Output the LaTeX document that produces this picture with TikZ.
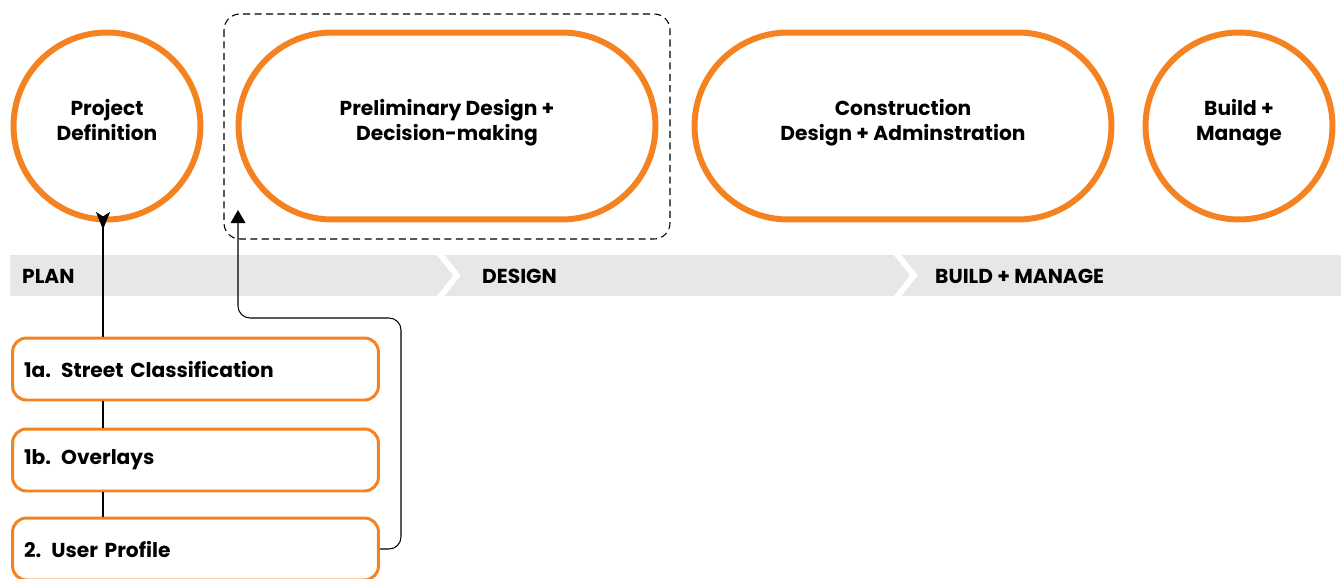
\documentclass[tikz,border=0pt]{standalone}
\usepackage{fontspec}
\setmainfont{Poppins}
\usetikzlibrary{arrows.meta}
\definecolor{stepor}{RGB}{245,130,32}
\definecolor{bandgr}{RGB}{230,231,232}

\begin{document}
\begin{tikzpicture}[x=0.02cm,y=-0.02cm,
    phase/.style={draw=stepor,line width=3.4pt,minimum height=3.74cm,align=center,text depth=7pt,font=\bfseries\fontsize{11.5}{14}\selectfont},
    task/.style={draw=stepor,line width=1.7pt,rounded corners=0.28cm,minimum width=7.32cm,minimum height=1.24cm,text width=6.86cm,align=left,inner xsep=0.23cm,font=\bfseries\fontsize{11.5}{14}\selectfont},
    bandlabel/.style={anchor=west,font=\bfseries\fontsize{11.5}{14}\selectfont}]
    \useasboundingbox (0,0) rectangle (1341,578);
    % phases
    \node [phase,circle,minimum size=3.74cm] (define) at (107,126) {Project\\Definition};
    \node [phase,rounded corners=1.87cm,minimum width=8.34cm] (prelim) at (447,126) {Preliminary Design +\\Decision-making};
    \node [phase,rounded corners=1.87cm,minimum width=8.34cm] (constr) at (903,126) {Construction\\Design + Adminstration};
    \node [phase,circle,minimum size=3.74cm] (manage) at (1239,126) {Build +\\Manage};
    \draw [dashed,dash pattern=on 4pt off 2.5pt,line width=0.6pt,rounded corners=0.32cm] (224,14) rectangle (670,239);
    % band
    \fill [bandgr] (10,255) rectangle (1341,296);
    \draw [white,line width=3.4pt] (439,253) -- (457,275.5) -- (439,298);
    \draw [white,line width=3.4pt] (896,253) -- (914,275.5) -- (896,298);
    \node [bandlabel] (plan) at (16,276) {PLAN};
    \node [bandlabel] (design) at (476,276) {DESIGN};
    \node [bandlabel] (build) at (929,276) {BUILD + MANAGE};
    % tasks
    \node [task] (street) at (195.5,369) {1a. Street Classification};
    \node [task] (overlay) at (195.5,460) {1b. Overlays};
    \node [task] (user) at (195.5,549) {2.\enspace User Profile};
    \coordinate (fork) at (103,212);
    \coordinate (ret) at (238,210);
    \draw [line width=0.7pt,{Stealth[reversed,length=10pt,width=8pt,inset=2.5pt]}-] (fork) -- (street.north -| fork);
    \draw [line width=0.6pt] (street.south -| fork) -- (overlay.north -| fork);
    \draw [line width=0.6pt] (overlay.south -| fork) -- (user.north -| fork);
    \draw [line width=0.6pt,rounded corners=0.24cm,-{Triangle[length=7.5pt,width=8.5pt]}] (user.east) -| (401,318) -| (ret);
\end{tikzpicture}
\end{document}
